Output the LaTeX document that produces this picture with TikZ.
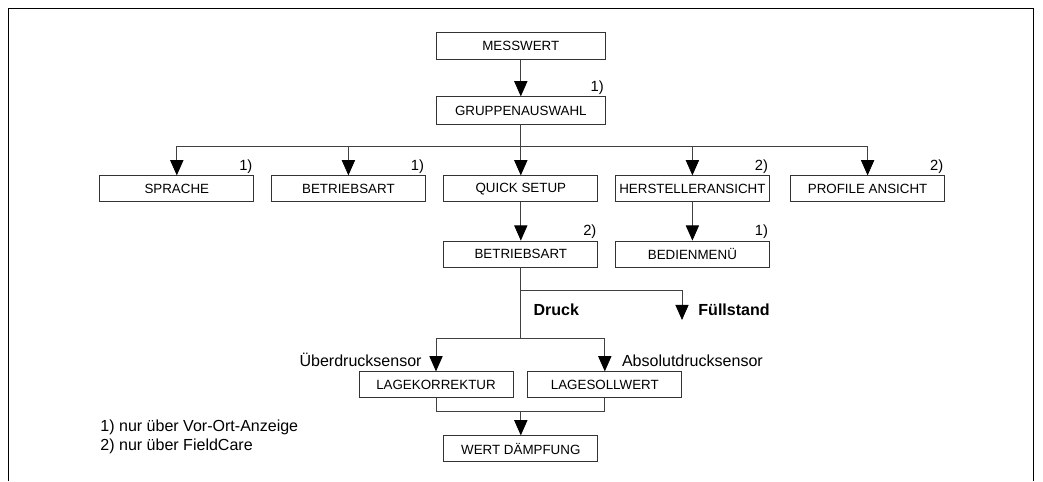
\documentclass[tikz,border=0pt]{standalone}
\usepackage{fontspec}
\setmainfont{Liberation Sans}
\usetikzlibrary{arrows.meta}

\tikzset{
  menu/.style={shape=rectangle, draw=black!80, line width=0.6pt,
    minimum width=3.85cm, minimum height=0.65cm, inner sep=0pt,
    font=\fontsize{9.5}{11}\selectfont},
  note/.style={anchor=south east, inner sep=1pt,
    font=\fontsize{10.5}{12}\selectfont},
  lbl/.style={inner sep=0pt, font=\fontsize{11.4}{13}\selectfont},
}

\begin{document}
\begin{tikzpicture}[>={Triangle[length=3.8mm,width=3.3mm,fill=black,color=black]}, line width=0.6pt]
\useasboundingbox (0,0) rectangle (26.075,-12.025);

% frame, open at the bottom
\draw[line width=0.8pt] (0.22,-12.025) -- (0.22,-0.22) -- (25.83,-0.22) -- (25.83,-12.025);

% top of the menu
\node[menu, minimum width=4.22cm, minimum height=0.68cm] at (13.02,-1.14)
(mw) {MESSWERT};
\node[menu, minimum width=4.22cm, minimum height=0.68cm] at (13.02,-2.76)
(grp) {GRUPPENAUSWAHL};

% groups
\node[menu] at ( 4.42,-4.72) (spr)  {SPRACHE};
\node[menu] at ( 8.71,-4.72) (ba1)  {BETRIEBSART};
\node[menu] at (13.02,-4.72) (qs)   {QUICK SETUP};
\node[menu] at (17.31,-4.72) (her)  {HERSTELLERANSICHT};
\node[menu] at (21.69,-4.72) (prof) {PROFILE ANSICHT};

\node[menu] at (13.02,-6.35) (ba2) {BETRIEBSART};
\node[menu] at (17.31,-6.35) (bed) {BEDIENMEN\"U};

% sensor branch
\node[menu] at (10.90,-9.62) (lk) {LAGEKORREKTUR};
\node[menu] at (15.12,-9.62) (ls) {LAGESOLLWERT};
\node[menu] at (13.02,-11.22) (wd) {WERT D\"AMPFUNG};

% access notes
\node[note] at (grp.north east) (n1) {1)};
\node[note] at (spr.north east) (n2) {1)};
\node[note] at (ba1.north east) (n3) {1)};
\node[note] at (her.north east) (n4) {2)};
\node[note] at (prof.north east) (n5) {2)};
\node[note] at (ba2.north east) (n6) {2)};
\node[note] at (bed.north east) (n7) {1)};

\coordinate (bar)  at (13.02,-3.65);
\coordinate (fork) at (13.02,-7.26);
\coordinate (fs)   at (17.05,-8.00);
\coordinate (sens) at (13.02,-8.45);
\coordinate (join) at (13.02,-10.29);

\path[->, every edge/.append style={draw=black!75}]
  (mw)  edge (grp)
  (grp) edge (qs)
  (qs)  edge (ba2)
  (her) edge (bed)
  (join) edge (wd)
;
\draw[draw=black!75] (grp) -- (bar);
\draw[->, draw=black!75] (bar) -| (spr);
\draw[->, draw=black!75] (bar) -| (ba1);
\draw[->, draw=black!75] (bar) -| (her);
\draw[->, draw=black!75] (bar) -| (prof);

\draw[draw=black!75] (ba2) -- (sens);
\draw[->, draw=black!75] (fork) -| (fs);
\draw[->, draw=black!75] (sens) -| (lk);
\draw[->, draw=black!75] (sens) -| (ls);
\draw[draw=black!75] (lk) |- (join) -| (ls);

% branch labels
\node[lbl, anchor=base west] at (13.33,-7.875) (druck) {\textbf{Druck}};
\node[lbl, anchor=base west] at (17.45,-7.875) (fuell) {\textbf{Füllstand}};
\node[lbl, anchor=base east] at (10.55,-9.15) (ueb) {Überdrucksensor};
\node[lbl, anchor=base west] at (15.54,-9.15) (abs) {Absolutdrucksensor};

% legend
\node[lbl, anchor=base west] at (2.5,-10.79) (leg1) {1) nur über Vor-Ort-Anzeige};
\node[lbl, anchor=base west] at (2.5,-11.26) (leg2) {2) nur über FieldCare};
\end{tikzpicture}
\end{document}
